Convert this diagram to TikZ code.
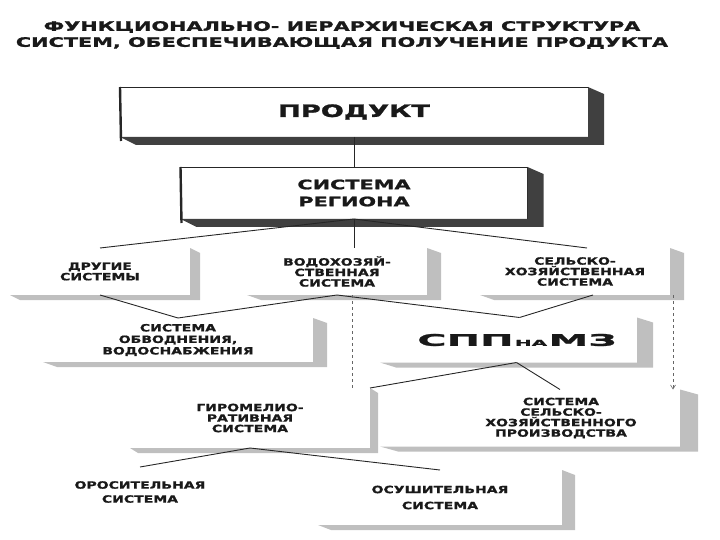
\documentclass[tikz,border=0pt]{standalone}
\usepackage{fontspec}
\newfontfamily\posterfont{DejaVu Sans}[FakeStretch=1.4, BoldFeatures={FakeBold=1.2}]
\newfontfamily\titlefont{DejaVu Sans}[FakeStretch=1.6, BoldFeatures={FakeBold=1.5}]
\newfontfamily\sppfont{DejaVu Sans}[FakeStretch=2.5, BoldFeatures={FakeBold=1.5}]
\usetikzlibrary{positioning, calc, arrows.meta}
\tikzset{
    baseblock/.style={rectangle, outer sep=0pt, inner sep=0pt, align=center, text=black!90, font=\posterfont\bfseries\fontsize{10}{10.5}\selectfont},
    darkblock/.style={baseblock, draw=black!85, line width=0.8pt, fill=white},
    paleblock/.style={baseblock},
    link/.style={line width=0.9pt, color=black!85},
    dashlink/.style={line width=0.6pt, color=black!60, dashed},
    arrow/.style={dashlink, -{Straight Barb[length=4pt, width=5pt]}}
}

\begin{document}
\begin{tikzpicture}[x=1pt, y=-1pt]
    \useasboundingbox (0,0) rectangle (720,540);
    % Title
    \node (title) [baseblock, font=\titlefont\bfseries\fontsize{13}{16}\selectfont] at (342,35)
        {ФУНКЦИОНАЛЬНО- ИЕРАРХИЧЕСКАЯ СТРУКТУРА\\СИСТЕМ, ОБЕСПЕЧИВАЮЩАЯ ПОЛУЧЕНИЕ ПРОДУКТА};

    % Nodes
    \node (prod) [darkblock, minimum width=468pt, minimum height=50pt, font=\titlefont\bfseries\fontsize{17}{20}\selectfont] at (354,112) {ПРОДУКТ};
    \node (reg) [darkblock, below=30pt of prod, minimum width=347pt, minimum height=52pt, font=\titlefont\bfseries\fontsize{13}{17}\selectfont] {СИСТЕМА\\РЕГИОНА};

    \node (wat) [paleblock, below=29pt of reg, xshift=-17pt, minimum width=180pt, minimum height=47pt] {ВОДОХОЗЯЙ-\\СТВЕННАЯ\\СИСТЕМА};
    \node (oth) [paleblock, left=57pt of wat, minimum width=180pt, minimum height=47pt] {ДРУГИЕ\\СИСТЕМЫ};
    \node (agr) [paleblock, right=53pt of wat, minimum width=190pt, minimum height=47pt] {СЕЛЬСКО-\\ХОЗЯЙСТВЕННАЯ\\СИСТЕМА};

    \node (obv) [paleblock, below=23pt of oth, xshift=78pt, minimum width=270pt, minimum height=44pt, font=\posterfont\bfseries\fontsize{10}{11.5}\selectfont] {СИСТЕМА\\ОБВОДНЕНИЯ,\\ВОДОСНАБЖЕНИЯ};
    \node (spp) [paleblock, right=67pt of obv, minimum width=257pt, minimum height=45pt, font=\sppfont\bfseries\fontsize{16}{18}\selectfont] {\hspace*{17pt}СПП{\fontsize{8}{8}\selectfont\,НА\,}МЗ};

    \node (gid) [paleblock, below=26pt of obv, xshift=72pt, minimum width=240pt, minimum height=60pt] {ГИРОМЕЛИО-\\РАТИВНАЯ\\СИСТЕМА};
    \node (ssp) [paleblock, right=10pt of gid, minimum width=300pt, minimum height=57pt] {};
    \node (ssptext) [baseblock] at ([xshift=31pt]ssp.center) {СИСТЕМА\\СЕЛЬСКО-\\ХОЗЯЙСТВЕННОГО\\ПРОИЗВОДСТВА};

    \node (oros) [paleblock, below=19pt of gid, xshift=-110pt, minimum width=240pt, minimum height=50pt, font=\posterfont\bfseries\fontsize{10}{14}\selectfont] {ОРОСИТЕЛЬНАЯ\\СИСТЕМА};
    \node (osu) [paleblock, right=58pt of oros, yshift=-5.5pt, minimum width=244pt, minimum height=55pt, font=\posterfont\bfseries\fontsize{10}{16}\selectfont] {ОСУШИТЕЛЬНАЯ\\СИСТЕМА};

    % Box depth
    \foreach \n in {prod, reg} {
        \fill[black!75] (\n.north east) -- ++(16,7) -- ($(\n.south east)+(16,8)$) -- ($(\n.south west)+(16,8)$) -- (\n.south west) -- (\n.south east) -- cycle;
        \draw[line width=2.4pt, black!85] (\n.north west) -- ($(\n.south west)+(1,4)$);
    }
    \foreach \n/\dx in {oth/10, wat/14, agr/14, obv/14, spp/16, gid/8, ssp/18, osu/13} {
        \fill[black!25] (\n.north east) -- ++(\dx,5) -- ($(\n.south east)+(\dx,5)$) -- ($(\n.south west)+(\dx,5)$) -- (\n.south west) -- (\n.south east) -- cycle;
    }

    % Arrows
    \draw [link] (prod.south) -- (reg.north);
    \draw [link] (reg.south) -- (reg.south |- wat.north);
    \draw [link] (reg.south) -- (oth.north);
    \draw [link] (reg.south) -- ([xshift=12pt]agr.north);

    \draw [link] (oth.south) -- (obv.north);
    \draw [link] (wat.south) -- (obv.north);
    \draw [link] (wat.south) -- ([xshift=11pt]spp.north);
    \draw [link] ([xshift=18pt]agr.south) -- ([xshift=11pt]spp.north);

    \draw [link] ([xshift=8pt]spp.south) -- (gid.north east);
    \draw [link] ([xshift=8pt]spp.south) -- ([xshift=30pt]ssp.north);

    \draw [link] (gid.south) -- (oros.north);
    \draw [link] (gid.south) -- (osu.north);

    \draw [dashlink] ([xshift=15pt]wat.south) -- ([xshift=15pt]wat.south |- gid.north);
    \draw [arrow] ([xshift=3pt]agr.south east) -- ([xshift=3pt]agr.south east |- ssp.north);
\end{tikzpicture}
\end{document}
